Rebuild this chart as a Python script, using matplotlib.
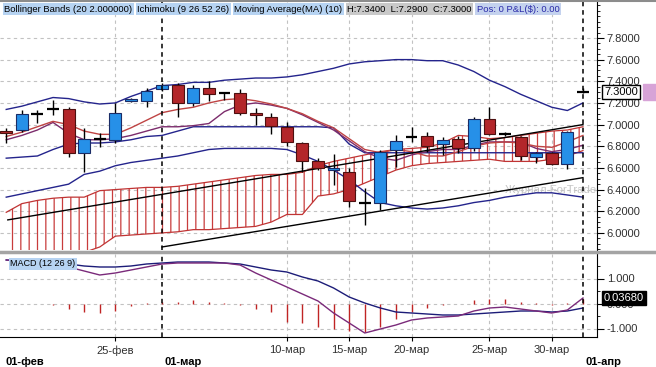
import numpy as np
import matplotlib.pyplot as plt
from matplotlib.patches import Rectangle
from matplotlib.lines import Line2D

plt.rcParams['font.family'] = ['Liberation Sans', 'DejaVu Sans']
plt.rcParams['hatch.linewidth'] = 0.9
plt.rcParams['hatch.color'] = '#c83c3c'

W, H = 656, 367

# session index, 0 = 01-мар (Sunday sessions kept, Saturdays skipped)
days = list(range(-10, 28))

opens = [6.94, 6.95, 7.10, 7.145, 7.14, 6.74, 6.865, 6.86, 7.22, 7.22,
         7.33, 7.365, 7.20, 7.34, 7.29, 7.29, 7.105, 7.07, 6.98, 6.83,
         6.665, 6.58, 6.56, 6.275, 6.28, 6.77, 6.885, 6.895, 6.82, 6.865,
         6.785, 7.05, 6.915, 6.885, 6.70, 6.735, 6.64, 7.30]
highs = [6.97, 7.135, 7.135, 7.23, 7.165, 6.97, 6.925, 7.20, 7.245, 7.34,
         7.385, 7.385, 7.365, 7.40, 7.295, 7.33, 7.155, 7.105, 7.025, 6.84,
         6.69, 6.73, 6.60, 6.415, 6.77, 6.905, 6.98, 6.93, 6.885, 6.895,
         7.07, 7.165, 6.935, 6.895, 6.75, 6.745, 6.94, 7.34]
lows = [6.83, 6.93, 7.015, 7.09, 6.70, 6.56, 6.795, 6.83, 7.21, 7.165,
        7.31, 7.07, 7.17, 7.22, 7.23, 7.09, 7.00, 6.915, 6.80, 6.56,
        6.58, 6.44, 6.24, 6.07, 6.21, 6.61, 6.84, 6.745, 6.72, 6.74,
        6.755, 6.905, 6.895, 6.67, 6.645, 6.63, 6.59, 7.29]
closes = [6.925, 7.10, 7.10, 7.145, 6.74, 6.87, 6.865, 7.11, 7.235, 7.31,
          7.365, 7.20, 7.34, 7.285, 7.29, 7.11, 7.09, 6.99, 6.84, 6.66,
          6.60, 6.595, 6.295, 6.275, 6.75, 6.85, 6.885, 6.805, 6.86, 6.785,
          7.05, 6.915, 6.915, 6.71, 6.74, 6.64, 6.93, 7.30]

bb_upper = [7.14, 7.17, 7.21, 7.25, 7.24, 7.21, 7.19, 7.20, 7.26, 7.31,
            7.36, 7.37, 7.39, 7.39, 7.41, 7.42, 7.43, 7.43, 7.44, 7.46,
            7.49, 7.52, 7.56, 7.58, 7.59, 7.60, 7.60, 7.59, 7.59, 7.55,
            7.49, 7.41, 7.35, 7.28, 7.22, 7.16, 7.13, 7.20]
bb_lower = [6.33, 6.36, 6.39, 6.42, 6.45, 6.54, 6.57, 6.62, 6.65, 6.67,
            6.69, 6.71, 6.74, 6.77, 6.78, 6.78, 6.78, 6.78, 6.77, 6.72,
            6.66, 6.58, 6.49, 6.38, 6.28, 6.25, 6.23, 6.22, 6.23, 6.25,
            6.28, 6.30, 6.33, 6.35, 6.37, 6.37, 6.35, 6.33]
kijun = [6.69, 6.70, 6.71, 6.77, 6.82, 6.83, 6.83, 6.84, 6.86, 6.89,
         6.90, 6.94, 6.98, 6.98, 6.98, 6.98, 6.98, 6.98, 6.98, 6.98,
         6.98, 6.97, 6.82, 6.74, 6.74, 6.74, 6.74, 6.74, 6.74, 6.74,
         6.74, 6.74, 6.74, 6.74, 6.74, 6.74, 6.74, 6.74]
tenkan = [6.86, 6.90, 6.95, 7.02, 6.92, 6.86, 6.86, 6.87, 6.90, 6.94,
          6.98, 6.98, 6.99, 7.01, 7.12, 7.18, 7.20, 7.18, 7.15, 7.09,
          7.02, 6.95, 6.85, 6.75, 6.69, 6.67, 6.72, 6.75, 6.77, 6.77,
          6.81, 6.84, 6.84, 6.84, 6.78, 6.75, 6.77, 6.81]
ma10 = [6.89, 6.93, 6.98, 7.03, 7.00, 6.94, 6.91, 6.91, 6.97, 7.04,
        7.11, 7.14, 7.16, 7.20, 7.23, 7.24, 7.22, 7.19, 7.15, 7.10,
        7.03, 6.97, 6.87, 6.77, 6.74, 6.77, 6.75, 6.71, 6.71, 6.75,
        6.80, 6.83, 6.84, 6.83, 6.80, 6.79, 6.84, 6.90]
cloud_a = [6.19, 6.27, 6.30, 6.32, 6.33, 6.33, 6.39, 6.40, 6.41, 6.42,
           6.42, 6.43, 6.45, 6.47, 6.49, 6.51, 6.53, 6.54, 6.54, 6.56,
           6.62, 6.66, 6.69, 6.72, 6.75, 6.77, 6.78, 6.79, 6.83, 6.90,
           6.89, 6.87, 6.88, 6.90, 6.92, 6.94, 6.95, 6.98]
cloud_b = [5.73, 5.75, 5.77, 5.79, 5.81, 5.82, 5.87, 5.97, 5.98, 5.99,
           6.00, 6.01, 6.03, 6.03, 6.04, 6.05, 6.06, 6.10, 6.17, 6.17,
           6.34, 6.36, 6.40, 6.46, 6.52, 6.58, 6.62, 6.64, 6.65, 6.66,
           6.67, 6.68, 6.66, 6.66, 6.66, 6.68, 6.71, 6.76]

# hand drawn trend lines: (session, price) end points
trend_upper = ([-9.9, 27], [6.12, 7.00])
trend_lower = ([0, 27], [5.87, 6.51])

macd_line = [1.74, 1.70, 1.66, 1.58, 1.46, 1.30, 1.14, 1.22, 1.34, 1.46,
             1.58, 1.62, 1.62, 1.62, 1.62, 1.54, 1.22, 0.94, 0.66, 0.38,
             0.10, -0.38, -0.78, -1.18, -1.02, -0.86, -0.66, -0.58, -0.54, -0.50,
             -0.30, -0.18, -0.14, -0.22, -0.30, -0.38, -0.26, 0.22]
macd_signal = [1.74, 1.70, 1.66, 1.62, 1.58, 1.50, 1.46, 1.46, 1.50, 1.58,
               1.62, 1.66, 1.66, 1.66, 1.62, 1.58, 1.46, 1.34, 1.26, 1.06,
               0.90, 0.62, 0.26, 0.02, -0.18, -0.34, -0.38, -0.42, -0.46, -0.46,
               -0.42, -0.38, -0.34, -0.30, -0.30, -0.34, -0.30, -0.18]
macd_hist = [0.0, -0.01, -0.02, -0.04, -0.20, -0.32, -0.36, -0.28, -0.08, 0.03,
             0.06, 0.08, 0.14, 0.08, 0.04, -0.04, -0.20, -0.32, -0.72, -0.76,
             -0.92, -1.00, -1.08, -1.12, -0.92, -0.60, -0.32, -0.16, -0.04, 0.0,
             0.16, 0.20, 0.20, 0.06, 0.01, -0.04, 0.01, 0.20]

date_ticks = [-3, 8, 12, 16, 21, 25]
date_labels = ['25-фев', '10-мар', '15-мар', '20-мар', '25-мар', '30-мар']
month_days = [0, 27]
month_labels = ['01-мар', '01-апр']
price_ticks = [6.0, 6.2, 6.4, 6.6, 6.8, 7.0, 7.2, 7.4, 7.6, 7.8]
macd_ticks = [-1.0, 0.0, 1.0]
macd_tick_labels = ['-1.000', '0.000', '1.000']
macd_last_text = '0.03680'

UP, UP_EDGE = '#2690e8', '#1b2c66'
DOWN, DOWN_EDGE = '#b3262a', '#4d1010'
NAVY = '#24248c'
GRID = '#c2c2c2'


def px_rect(x0, y0, x1, y1):
    return [x0 / W, 1 - y1 / H, (x1 - x0) / W, (y1 - y0) / H]


fig = plt.figure(figsize=(W / 100, H / 100), dpi=100)
ax = fig.add_axes(px_rect(0, 2, 597, 250))
am = fig.add_axes(px_rect(0, 254, 597, 337), sharex=ax)

# ---- price panel
ax.fill_between(days, cloud_b, cloud_a, facecolor='none', edgecolor='#c83c3c',
                hatch='||', linewidth=0, zorder=1)
ax.plot(days, cloud_a, color='#c03434', lw=0.9, zorder=2)
ax.plot(days, cloud_b, color='#c03434', lw=0.9, zorder=2)

ax.plot(days, bb_upper, color=NAVY, lw=1.0, zorder=3)
ax.plot(days, bb_lower, color=NAVY, lw=1.0, zorder=3)
ax.plot(days, kijun, color=NAVY, lw=1.0, zorder=3)
ax.plot(days, tenkan, color='#7c2c6c', lw=1.0, zorder=3)
ax.plot(days, ma10, color='#bf4444', lw=1.0, zorder=3)

for tx, ty in (trend_upper, trend_lower):
    ax.plot(tx, ty, color='black', lw=1.0, zorder=3)

for d, o, h, l, c in zip(days, opens, highs, lows, closes):
    ax.vlines(d, l, h, color='black', lw=1.0, zorder=4)
    if o == c:
        ax.hlines(o, d - 0.38, d + 0.38, color='black', lw=1.6, zorder=5)
    else:
        up = c > o
        ax.bar(d, abs(c - o), bottom=min(o, c), width=0.76,
               color=UP if up else DOWN, edgecolor=UP_EDGE if up else DOWN_EDGE,
               linewidth=0.8, zorder=5)

# watermark, clipped at the plot edge like the terminal does
ax.text(505 / 597, 1 - 188 / 248, 'Журнал ForTrader', transform=ax.transAxes,
        fontsize=8.2, color='#c6c6c6', ha='left', va='center', clip_on=True,
        zorder=2)

ax.set_ylim(5.842, 8.132)
ax.set_xlim(-10.4, 27.9)
ax.set_yticks(price_ticks)
ax.set_yticklabels([f'{v:.4f}' for v in price_ticks])
ax.yaxis.set_minor_locator(plt.MultipleLocator(0.05))
ax.yaxis.tick_right()
ax.tick_params(axis='y', which='major', direction='out', length=5, labelsize=8,
               labelcolor='#303030', pad=2)
ax.tick_params(axis='y', which='minor', direction='out', length=2.5)
ax.tick_params(axis='x', which='both', bottom=False, labelbottom=False)
ax.grid(True, color=GRID, linestyle=(0, (3, 3)), linewidth=0.8)
ax.set_axisbelow(True)
for s in ('left', 'top', 'bottom'):
    ax.spines[s].set_visible(False)

# ---- MACD panel
am.vlines(days, 0, macd_hist, color='#c02424', lw=1.0, zorder=3)
am.plot(days, macd_signal, color='#1c1c78', lw=1.0, zorder=4)
am.plot(days, macd_line, color='#7a2a7a', lw=1.0, zorder=4)
am.set_ylim(-1.34, 1.98)
am.set_yticks(macd_ticks)
am.set_yticklabels(macd_tick_labels)
am.yaxis.set_minor_locator(plt.MultipleLocator(0.5))
am.yaxis.tick_right()
am.tick_params(axis='y', which='major', direction='out', length=5, labelsize=8,
               labelcolor='#303030', pad=2)
am.tick_params(axis='y', which='minor', direction='out', length=2.5)
am.set_xticks(date_ticks)
am.set_xticklabels(date_labels)
am.tick_params(axis='x', direction='out', length=3, labelsize=8,
               labelcolor='#303030', pad=3)
am.grid(True, color=GRID, linestyle=(0, (3, 3)), linewidth=0.8)
am.set_axisbelow(True)
for s in ('left', 'top'):
    am.spines[s].set_visible(False)

for a in (ax, am):
    for d in month_days:
        a.axvline(d, color='black', linestyle=(0, (3, 2.5)), lw=1.1, zorder=6)

for d, lab in zip(month_days, month_labels):
    am.annotate(lab, xy=(d, 0), xycoords=('data', 'axes fraction'),
                xytext=(2, -18), textcoords='offset points', ha='left',
                va='center', fontsize=8, fontweight='bold', annotation_clip=False)
am.annotate('01-фев', xy=(0, 0), xycoords='axes fraction', xytext=(4, -18),
            textcoords='offset points', ha='left', va='center', fontsize=8,
            fontweight='bold', annotation_clip=False)

# last-value markers on the right scale
ax.annotate(f'{closes[-1]:.4f}', xy=(1, closes[-1]),
            xycoords=('axes fraction', 'data'), xytext=(5, 0),
            textcoords='offset points', ha='left', va='center', fontsize=8,
            color='black', zorder=10, annotation_clip=False,
            bbox=dict(boxstyle='square,pad=0.2', fc='white', ec='black', lw=1))
ax.add_patch(Rectangle((643 / 597, closes[-1] - 0.075), 14 / 597, 0.15,
                       transform=ax.get_yaxis_transform(), clip_on=False,
                       color='#d7a3d7', zorder=9))
am.annotate(macd_last_text, xy=(1, macd_line[-1]),
            xycoords=('axes fraction', 'data'), xytext=(5, 0),
            textcoords='offset points', ha='left', va='center', fontsize=8,
            color='white', zorder=10, annotation_clip=False,
            bbox=dict(boxstyle='square,pad=0.2', fc='black', ec='black'))

am.text(0.017, 0.88, 'MACD (12 26 9)', transform=am.transAxes, fontsize=6.5,
        va='center', ha='left', zorder=8,
        bbox=dict(boxstyle='square,pad=0.15', fc='#b6d3f2', ec='none'))

# header strip: boxes laid out one after another
hdr_y = 1 - 9 / H
head = [('Bollinger Bands (20 2.000000)', '#b6d3f2', 'black'),
        ('Ichimoku (9 26 52 26)', '#b6d3f2', 'black'),
        ('Moving Average(MA) (10)', '#b6d3f2', 'black'),
        ('H:7.3400  L:7.2900  C:7.3000', '#c9c9c9', 'black'),
        ('Pos: 0 P&L($): 0.00', '#c4d2ee', '#2a2aa8')]
renderer = fig.canvas.get_renderer()
x_px = 4
for txt, bg, fg in head:
    t = fig.text(x_px / W, hdr_y, txt, fontsize=6.8, color=fg, ha='left',
                 va='center',
                 bbox=dict(boxstyle='square,pad=0.15', fc=bg, ec='none'))
    x_px += t.get_window_extent(renderer).width + 5

fig.add_artist(Line2D([0, 1], [1 - 252 / H] * 2, color='#a4a4a4', lw=2.5,
                      transform=fig.transFigure))
fig.add_artist(Line2D([0, 1], [1 - 0.6 / H] * 2, color='#8c8c8c', lw=1.5,
                      transform=fig.transFigure))

fig.savefig('out.png', dpi=100, facecolor='white')
